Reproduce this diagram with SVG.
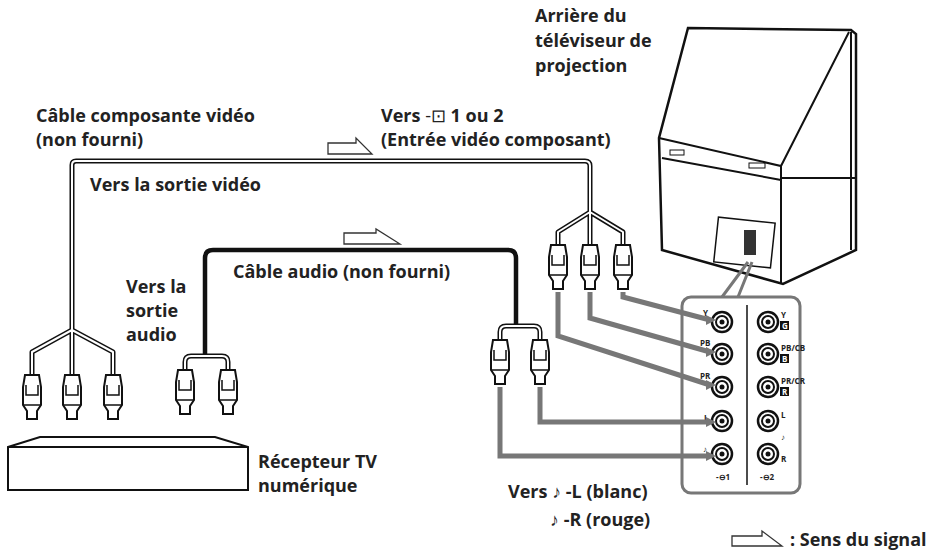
<svg xmlns="http://www.w3.org/2000/svg" width="945" height="556" viewBox="0 0 945 556">
<style>
text{font-family:"Open Sans","Liberation Sans",sans-serif;font-weight:bold;font-size:18px;fill:#222}
.s{font-size:8px}
.o{fill:none;stroke:#111;stroke-width:2}
.w{fill:none;stroke:#111;stroke-width:5;stroke-linejoin:round}
.wi{fill:none;stroke:#fff;stroke-width:2;stroke-linejoin:round}
.g{fill:none;stroke:#777;stroke-width:5}
.arr{fill:#fff;stroke:#333;stroke-width:1.3}
.pl{fill:#fff;stroke:#111;stroke-width:2}
</style>
<defs>
<g id="plug"><path class="pl" d="M-7,-4 L7,-4 L9,8 L9,26 L5,32 L5,40 L-5,40 L-5,32 L-9,26 L-9,8 Z"/><path class="o" style="stroke-width:1.5" d="M-6,6 L-6,16 L6,16 L6,6 M-9,26 L9,26"/></g>
<g id="jack"><circle r="10" fill="#fff" stroke="#111" stroke-width="2.5"/><circle r="6" fill="none" stroke="#111" stroke-width="2"/><circle r="2.5" fill="#111"/></g>
</defs>
<g id="tv">
<path d="M688,28 L851,30 L856,34 L856,250 L783,284 L662,250 L659,138 Z" fill="#fff" stroke="#111" stroke-width="2.5"/>
<path class="o" d="M659,138 L781,166 L849,32 M781,166 L781,284 M662,158 L781,180 M781,178 L855,178 M851,32 L851,250"/>
<rect x="716" y="220" width="57" height="45" class="o" style="stroke-width:1.5" transform="rotate(6 744 242)"/>
<rect x="744" y="230" width="12" height="25" fill="#333"/>
<rect x="670" y="150" width="14" height="5" class="o" style="stroke-width:1"/>
<rect x="749" y="163" width="16" height="5" class="o" style="stroke-width:1"/>
</g>
<g id="panel">
<rect x="682" y="297" width="118" height="196" rx="9" fill="#fff" stroke="#777" stroke-width="3"/>
<path d="M722,297 L748,262 M738,297 L752,262" stroke="#777" stroke-width="3" fill="none"/>
<line x1="747" y1="305" x2="747" y2="485" stroke="#111" stroke-width="1.5"/>
<use href="#jack" x="722" y="322"/><use href="#jack" x="722" y="354"/><use href="#jack" x="722" y="387"/><use href="#jack" x="722" y="421"/><use href="#jack" x="722" y="454"/>
<use href="#jack" x="768" y="322"/><use href="#jack" x="768" y="354"/><use href="#jack" x="768" y="387"/><use href="#jack" x="768" y="421"/><use href="#jack" x="768" y="454"/>
<text class="s" x="703" y="316">Y</text><text class="s" x="700" y="346">PB</text><text class="s" x="700" y="379">PR</text><text class="s" x="704" y="421">L</text><text class="s" x="703" y="452">♪</text>
<text class="s" x="781" y="318">Y</text><rect x="780" y="321" width="9" height="9" fill="#111"/><text class="s" x="782" y="329" style="fill:#fff">G</text>
<text class="s" x="781" y="351">PB/CB</text><rect x="780" y="354" width="9" height="9" fill="#111"/><text class="s" x="782" y="362" style="fill:#fff">B</text>
<text class="s" x="781" y="384">PR/CR</text><rect x="780" y="387" width="9" height="9" fill="#111"/><text class="s" x="782" y="395" style="fill:#fff">R</text>
<text class="s" x="781" y="418">L</text><text class="s" x="781" y="440">♪</text><text class="s" x="781" y="462">R</text>
<text class="s" x="716" y="480">-⊖1</text><text class="s" x="760" y="480">-⊖2</text>
</g>
<g id="connectors">
<path class="w" d="M72,340 L72,165 Q72,161 76,161 L585,161 Q590,161 590,166 L590,210 M590,210 L590,245 M590,212 L558,232 L558,245 M590,212 L623,232 L623,245 M72,330 L72,375 M72,330 L32,352 L32,375 M72,330 L113,352 L113,375"/>
<path class="wi" d="M72,340 L72,165 Q72,161 76,161 L585,161 Q590,161 590,166 L590,210 M590,210 L590,245 M590,212 L558,232 L558,245 M590,212 L623,232 L623,245 M72,330 L72,375 M72,330 L32,352 L32,375 M72,330 L113,352 L113,375"/>
<path fill="none" stroke="#111" stroke-width="4.5" d="M205,355 L205,258 Q205,250 213,250 L508,250 Q516,250 516,258 L516,326"/>
<path class="w" d="M185,370 L185,362 Q185,356 191,356 L222,356 Q228,356 228,362 L228,370 M500,340 L500,332 Q500,326 506,326 L534,326 Q540,326 540,332 L540,340"/>
<path class="wi" d="M185,370 L185,362 Q185,356 191,356 L222,356 Q228,356 228,362 L228,370 M500,340 L500,332 Q500,326 506,326 L534,326 Q540,326 540,332 L540,340"/>
<use href="#plug" x="32" y="379"/><use href="#plug" x="72" y="379"/><use href="#plug" x="113" y="379"/>
<use href="#plug" x="185" y="374"/><use href="#plug" x="228" y="374"/>
<use href="#plug" x="558" y="249"/><use href="#plug" x="590" y="249"/><use href="#plug" x="623" y="249"/>
<use href="#plug" x="500" y="344"/><use href="#plug" x="540" y="344"/>
<path class="g" d="M558,292 L558,336 L710,385 M590,292 L590,318 L710,352 M623,292 L623,297 L710,320 M500,387 L500,456 L710,456 M540,387 L540,422 L710,422"/>
<path d="M716,385 L706,380 L706,390Z M716,352 L706,347 L706,357Z M716,320 L706,315 L706,325Z M716,456 L706,451 L706,461Z M716,422 L706,417 L706,427Z" fill="#777"/>
<path class="arr" d="M328,143 L356,143 L356,138 L372,154 L328,154 Z"/>
<path class="arr" d="M344,233 L376,233 L376,229 L400,244 L344,244 Z"/>
<path class="arr" d="M732,536 L762,536 L762,531 L782,546 L732,546 Z"/>
</g>
<g id="receiver"><path class="o" d="M8,447 L40,437 L215,437 L248,447 L248,490 L8,490 Z M8,447 L248,447"/></g>
<g id="labels">
<text x="535" y="22">Arrière du</text><text x="535" y="47">téléviseur de</text><text x="535" y="72">projection</text>
<text x="36" y="122">Câble composante vidéo</text><text x="36" y="146">(non fourni)</text>
<text x="381" y="122">Vers <tspan font-weight="normal">-⊡</tspan> 1 ou 2</text><text x="381" y="146">(Entrée vidéo composant)</text>
<text x="90" y="191">Vers la sortie vidéo</text>
<text x="233" y="278">Câble audio (non fourni)</text>
<text x="126" y="293">Vers la</text><text x="126" y="317">sortie</text><text x="126" y="341">audio</text>
<text x="258" y="468">Récepteur TV</text><text x="258" y="492">numérique</text>
<text x="508" y="498">Vers  ♪ -L (blanc)</text><text x="550" y="526">♪ -R (rouge)</text>
<text x="790" y="546">: Sens du signal</text>
</g>
</svg>
